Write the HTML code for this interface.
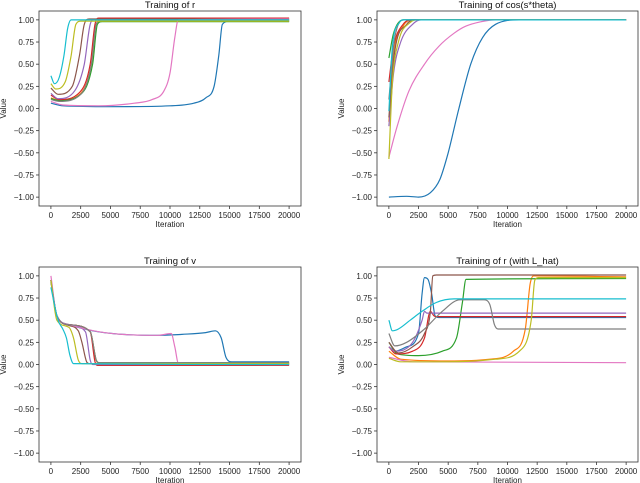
<!DOCTYPE html>
<html><head><meta charset="utf-8"><style>
html,body{margin:0;padding:0;background:#fff;}
svg{display:block;font-family:"Liberation Sans","DejaVu Sans",sans-serif;}
</style></head><body>
<svg id="fig" width="640" height="483" viewBox="0 0 640 483"></svg>
<script>
const colors = ["#1f77b4","#ff7f0e","#2ca02c","#d62728","#9467bd","#8c564b","#e377c2","#7f7f7f","#bcbd22","#17becf"];
const xTicks = [0,2500,5000,7500,10000,12500,15000,17500,20000];
const yTicks = [1,0.75,0.5,0.25,0,-0.25,-0.5,-0.75,-1];
const titles = ["Training of r","Training of cos(s*theta)","Training of v","Training of r (with L_hat)"];

const rSeries = [
 [[0,0.06],[1000,0.03],[5000,0.02],[10000,0.03],[12000,0.06],[13000,0.12],[13700,0.25],[14100,0.6],[14400,0.95],[15000,0.985],[20000,0.985]],
 [[0,0.12],[700,0.09],[2500,0.17],[3400,0.5],[3800,0.95],[4200,0.99],[20000,0.99]],
 [[0,0.11],[700,0.09],[2500,0.16],[3500,0.5],[3900,0.95],[4300,0.98],[20000,0.98]],
 [[0,0.15],[700,0.1],[2400,0.18],[3300,0.5],[3700,0.95],[4000,1.02],[20000,1.02]],
 [[0,0.17],[600,0.11],[2000,0.2],[2800,0.5],[3300,0.95],[3600,1.0],[20000,1.0]],
 [[0,0.23],[600,0.16],[1800,0.25],[2400,0.6],[2800,0.95],[3200,1.01],[20000,1.01]],
 [[0,0.08],[1000,0.04],[4000,0.03],[7000,0.06],[8500,0.1],[9500,0.2],[10000,0.4],[10400,0.8],[10700,1.0],[20000,1.01]],
 [[0,0.1],[700,0.08],[2500,0.16],[3400,0.5],[3800,0.95],[4200,1.0],[20000,1.0]],
 [[0,0.28],[400,0.22],[1200,0.3],[1700,0.6],[2100,0.95],[2500,0.985],[20000,0.985]],
 [[0,0.37],[300,0.28],[700,0.35],[1100,0.6],[1400,0.9],[1700,1.0],[20000,1.0]]
];
const cosSeries = [
 [[0,-1],[1500,-0.99],[2500,-1],[3500,-0.95],[4300,-0.8],[5000,-0.5],[5900,0],[6900,0.5],[7900,0.8],[9000,0.95],[11000,1],[20000,1]],
 [[0,-0.15],[400,0.6],[1200,0.93],[2000,1],[20000,1]],
 [[0,0.57],[400,0.85],[1200,1],[20000,1]],
 [[0,0.3],[400,0.7],[1200,0.95],[2000,1],[20000,1]],
 [[0,-0.2],[400,0.4],[1000,0.75],[2000,0.95],[2700,1],[20000,1]],
 [[0,-0.1],[500,0.65],[1500,0.95],[2200,1],[20000,1]],
 [[0,-0.55],[700,-0.2],[1700,0.2],[3000,0.5],[4200,0.7],[5500,0.85],[6500,0.93],[7800,0.98],[9000,1],[20000,1]],
 [[0,0.1],[500,0.8],[1300,1],[20000,1]],
 [[0,-0.57],[300,0.3],[800,0.75],[1800,0.97],[2500,1],[20000,1]],
 [[0,-0.03],[300,0.7],[900,0.97],[1200,1],[20000,1]]
];
const vSeries = [
 [[0,0.95],[500,0.55],[1500,0.45],[3500,0.38],[6000,0.34],[9000,0.33],[11000,0.34],[13000,0.36],[13800,0.38],[14300,0.3],[14700,0.08],[15200,0.03],[20000,0.03]],
 [[0,0.95],[500,0.55],[1500,0.45],[3300,0.37],[3800,0.05],[4000,0.01],[20000,0.01]],
 [[0,0.93],[500,0.55],[1500,0.45],[3300,0.37],[3800,0.05],[4100,0.02],[20000,0.02]],
 [[0,0.95],[500,0.55],[1500,0.45],[3300,0.37],[3700,0.03],[3900,-0.01],[20000,-0.01]],
 [[0,0.95],[500,0.55],[1500,0.45],[2900,0.37],[3300,0.05],[3500,0.0],[20000,0.0]],
 [[0,0.95],[500,0.55],[1500,0.44],[2300,0.38],[2600,0.25],[3000,0.03],[3200,0.01],[20000,0.01]],
 [[0,1.0],[500,0.55],[1500,0.45],[4000,0.37],[6000,0.34],[9000,0.33],[10100,0.35],[10400,0.2],[10700,0.02],[20000,0.0]],
 [[0,0.95],[500,0.55],[1500,0.45],[3300,0.37],[3800,0.05],[4000,0.02],[20000,0.02]],
 [[0,0.95],[500,0.5],[1500,0.42],[1900,0.3],[2300,0.05],[2600,0.01],[20000,0.01]],
 [[0,0.87],[600,0.5],[1000,0.4],[1300,0.3],[1600,0.1],[1900,0.01],[20000,0.0]]
];
const lhatSeries = [
 [[0,0.2],[500,0.15],[1500,0.2],[2500,0.35],[2800,0.8],[3000,0.98],[3300,0.96],[3600,0.8],[3900,0.55],[4200,0.53],[20000,0.53]],
 [[0,0.15],[1000,0.06],[5000,0.04],[8500,0.06],[10500,0.15],[11500,0.4],[11900,0.9],[12200,1.0],[20000,0.99]],
 [[0,0.25],[700,0.12],[2500,0.1],[4500,0.15],[5700,0.3],[6200,0.7],[6500,0.96],[20000,0.97]],
 [[0,0.2],[600,0.12],[2000,0.15],[3000,0.3],[3500,0.6],[3800,0.55],[4000,0.54],[20000,0.54]],
 [[0,0.2],[500,0.15],[2000,0.25],[2800,0.5],[3000,0.6],[3200,0.58],[20000,0.58]],
 [[0,0.25],[800,0.13],[2000,0.2],[3000,0.35],[3500,0.6],[3700,1.0],[4000,1.01],[20000,1.01]],
 [[0,0.08],[2000,0.03],[20000,0.02]],
 [[0,0.35],[500,0.21],[1500,0.25],[3000,0.4],[4500,0.6],[6000,0.73],[8000,0.73],[8500,0.68],[8900,0.45],[9200,0.4],[20000,0.4]],
 [[0,0.07],[1000,0.03],[5000,0.03],[9000,0.06],[11000,0.15],[12000,0.5],[12300,0.95],[12600,0.98],[20000,0.98]],
 [[0,0.5],[300,0.38],[800,0.4],[1800,0.5],[2800,0.6],[4000,0.7],[5500,0.74],[20000,0.74]]
];
const allSeries = [rSeries, cosSeries, vSeries, lhatSeries];

const NS="http://www.w3.org/2000/svg";
const svg=document.getElementById('fig');
function mk(tag,attrs,parent){const e=document.createElementNS(NS,tag);for(const k in attrs)e.setAttribute(k,attrs[k]);(parent||svg).appendChild(e);return e;}
// monotone cubic path through pixel points
function monoPath(P){
  const n=P.length; if(n<2) return '';
  const d=[],m=new Array(n);
  for(let i=0;i<n-1;i++){d.push((P[i+1][1]-P[i][1])/(P[i+1][0]-P[i][0]||1e-6));}
  m[0]=d[0]; m[n-1]=d[n-2];
  for(let i=1;i<n-1;i++){ m[i]=(d[i-1]*d[i]<=0)?0:(d[i-1]+d[i])/2; }
  for(let i=0;i<n-1;i++){
    if(d[i]===0){m[i]=0;m[i+1]=0;continue;}
    const a=m[i]/d[i],b=m[i+1]/d[i],s=a*a+b*b;
    if(s>9){const t=3/Math.sqrt(s);m[i]=t*a*d[i];m[i+1]=t*b*d[i];}
  }
  let s='M'+P[0][0].toFixed(1)+','+P[0][1].toFixed(1);
  for(let i=0;i<n-1;i++){
    const h=(P[i+1][0]-P[i][0])/3;
    s+=' C'+(P[i][0]+h).toFixed(1)+','+(P[i][1]+m[i]*h).toFixed(1)+' '+(P[i+1][0]-h).toFixed(1)+','+(P[i+1][1]-m[i+1]*h).toFixed(1)+' '+P[i+1][0].toFixed(1)+','+P[i+1][1].toFixed(1);
  }
  return s;
}
const boxes=[[39,11,301,206],[377,11,638,206],[39,267,301,462],[377,267,638,462]];
const slugs=["r","cos","v","r-lhat"];
boxes.forEach((b,i)=>{
  const [L,T,R,B]=b;
  const g=mk('g',{});
  
  
  const xs=v=>L+(v+1000)/22000*(R-L);
  const ys=v=>B-(v+1.1)/2.2*(B-T);
  allSeries[i].forEach((s,k)=>{
    const p=mk('path',{d:monoPath(s.map(q=>[xs(q[0]),ys(q[1])])),fill:'none',stroke:colors[k],'stroke-width':1.2,'stroke-linejoin':'round'},g);
    
    
  });
  const fr=mk('rect',{x:L,y:T,width:R-L,height:B-T,fill:'none',stroke:'#333','stroke-width':0.8},g);
  
  
  xTicks.forEach(t=>{
    const x=xs(t);
    mk('line',{x1:x,x2:x,y1:B,y2:B+3,stroke:'#333','stroke-width':0.8},g);
    const tx=mk('text',{x:x,y:B+12,'font-size':8,'text-anchor':'middle',fill:'#222'},g);
    tx.textContent=t;
    
    
  });
  yTicks.forEach(t=>{
    const y=ys(t);
    mk('line',{x1:L-3,x2:L,y1:y,y2:y,stroke:'#333','stroke-width':0.8},g);
    const tx=mk('text',{x:L-5,y:y+3,'font-size':8,'text-anchor':'end',fill:'#222'},g);
    tx.textContent=(t<0?'\u2212':'')+Math.abs(t).toFixed(2);
    
    
  });
  const ti=mk('text',{x:(L+R)/2,y:T-3,'font-size':9.5,'text-anchor':'middle',fill:'#111'},g);
  ti.textContent=titles[i];
  
  
  const xl=mk('text',{x:(L+R)/2,y:B+21,'font-size':8,'text-anchor':'middle',fill:'#222'},g);
  xl.textContent='Iteration';
  
  
  const yx=L-33, yy=(T+B)/2;
  const yl=mk('text',{x:yx,y:yy,'font-size':8,'text-anchor':'middle',fill:'#222',transform:`rotate(-90 ${yx} ${yy})`},g);
  yl.textContent='Value';
  
  
});
</script>
</body></html>
